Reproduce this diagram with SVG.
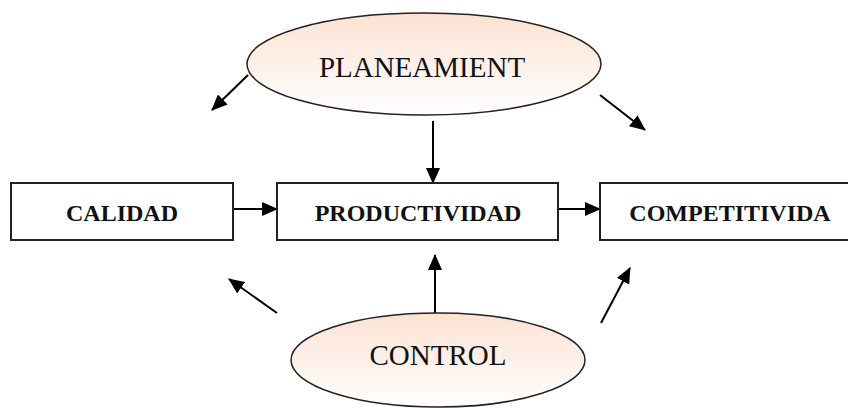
<svg xmlns="http://www.w3.org/2000/svg" width="848" height="408" viewBox="0 0 848 408">
  <defs>
    <linearGradient id="peach" x1="0" y1="0" x2="0" y2="1">
      <stop offset="0" stop-color="#fbe2d2"/>
      <stop offset="1" stop-color="#ffffff"/>
    </linearGradient>
    <marker id="arrow" markerUnits="userSpaceOnUse" markerWidth="16" markerHeight="14" refX="15" refY="7" orient="auto">
      <path d="M0,0 L16,7 L0,14 Z" fill="#000"/>
    </marker>
  </defs>
  <style>
    .ellipse { fill: url(#peach); stroke: #222; stroke-width: 1.5; }
    .box { fill: #fff; stroke: #222; stroke-width: 2; }
    .etext { font-family: "Liberation Serif", "Times New Roman", serif; font-size: 29px; fill: #111; text-anchor: middle; }
    .btext { font-family: "Liberation Serif", "Times New Roman", serif; font-size: 24px; font-weight: bold; fill: #111; text-anchor: middle; }
    .conn { stroke: #000; stroke-width: 2; fill: none; marker-end: url(#arrow); }
  </style>
  <rect width="848" height="408" fill="#fff"/>

  <g id="connectors">
    <line class="conn" x1="248" y1="75" x2="212" y2="110"/>
    <line class="conn" x1="600" y1="95" x2="645" y2="130"/>
    <line class="conn" x1="433" y1="121" x2="433" y2="183"/>
    <line class="conn" x1="233" y1="209" x2="277" y2="209"/>
    <line class="conn" x1="558" y1="209" x2="600" y2="209"/>
    <line class="conn" x1="277" y1="313" x2="229" y2="279"/>
    <line class="conn" x1="435" y1="313" x2="435" y2="255"/>
    <line class="conn" x1="601" y1="323" x2="630" y2="268"/>
  </g>

  <g id="planeamient">
    <ellipse class="ellipse" cx="424" cy="64" rx="177" ry="51"/>
    <text class="etext" x="422" y="77">PLANEAMIENT</text>
  </g>

  <g id="calidad">
    <rect class="box" x="11" y="183" width="222" height="57"/>
    <text class="btext" x="122" y="221">CALIDAD</text>
  </g>

  <g id="productividad">
    <rect class="box" x="277" y="183" width="281" height="57"/>
    <text class="btext" x="418" y="221">PRODUCTIVIDAD</text>
  </g>

  <g id="competitivida">
    <rect class="box" x="600" y="183" width="262" height="57"/>
    <text class="btext" x="730" y="221">COMPETITIVIDA</text>
  </g>

  <g id="control">
    <ellipse class="ellipse" cx="438" cy="360" rx="147" ry="47"/>
    <text class="etext" x="438" y="365">CONTROL</text>
  </g>
</svg>
